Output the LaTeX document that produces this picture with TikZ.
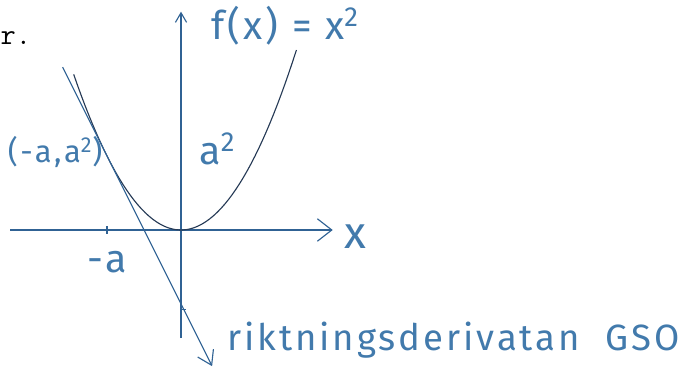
\documentclass[tikz,border=0pt]{standalone}
\usepackage{fontspec}
\newfontfamily\handfont[LetterSpace=8]{Fira Sans}
\usetikzlibrary{arrows.meta}
\definecolor{inkblue}{RGB}{66,122,172}
\definecolor{axblue}{RGB}{48,98,148}
\definecolor{inkdark}{RGB}{38,58,86}
\tikzset{
  ax/.style={-{Straight Barb[length=3.6mm,width=5.6mm]}, thick, axblue},
  axy/.style={-{Straight Barb[length=2.4mm,width=2.8mm]}, thick, axblue},
  tng/.style={-{Straight Barb[length=3.4mm,width=4.4mm]}, thick, axblue},
  crv/.style={thick, inkdark},
  tck/.style={thick, axblue},
  hand/.style={inkblue, font=\handfont\fontsize{28}{32}\selectfont, inner sep=1pt},
}
\begin{document}
\begin{tikzpicture}[x=1.85cm,y=1.85cm]
  \useasboundingbox (-2.446,-1.919) rectangle (6.932,3.108);
  % axes
  \coordinate (xa) at (-2.31,0);
  \coordinate (xb) at (2.05,0);
  \coordinate (ya) at (0,-1.46);
  \coordinate (yb) at (0,2.95);
  \draw[ax] (xa) -- (xb);
  \draw[axy] (ya) -- (yb);
  \draw[tck] (-1,0.05) -- (-1,-0.05);
  \draw[tck] (0,-1.08) -- (0.07,-1.08);
  % graph of f
  \draw[crv] plot[domain=-1.45:1.56,samples=60] (\x,{\x*\x});
  % tangent in (-a,a^2)
  \coordinate (ta) at (-1.6,2.2);
  \coordinate (tb) at (0.42,-1.84);
  \draw[tng] (ta) -- (tb);
  % labels
  \node[anchor=west, inner sep=0pt, font=\ttfamily\fontsize{21}{24}\selectfont] (prev) at (-2.44,2.6) {r.};
  \node[hand] (fx) at (1.405,2.76) {f(x) = x\textsuperscript{2}};
  \node[hand] (asq) at (0.49,1.1) {a\textsuperscript{2}};
  \node[hand, font=\handfont\fontsize{22}{26}\selectfont] (pt) at (-1.70,1.05) {(-a,a\textsuperscript{2})};
  \node[hand] (ma) at (-1.0,-0.43) {-a};
  \node[hand, font=\handfont\fontsize{32}{36}\selectfont] (xlab) at (2.36,-0.09) {x};
  \node[hand, font=\handfont\fontsize{26}{30}\selectfont] (rd) at (3.68,-1.49) {riktningsderivatan\ \ GSO};
\end{tikzpicture}
\end{document}
